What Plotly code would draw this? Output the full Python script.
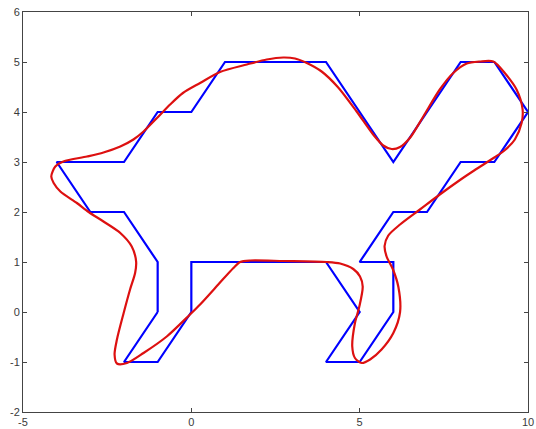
import plotly.graph_objects as go

# Camel outline (closed polygon)
camel_x = [-1, -2, -1, 0, 0, 4, 5, 4, 5, 6, 6, 5, 6, 7, 8, 9, 10, 9, 8, 6, 4, 1, 0, -1, -2, -4, -3, -2, -1, -1]
camel_y = [0, -1, -1, 0, 1, 1, 0, -1, -1, 0, 1, 1, 2, 2, 3, 3, 4, 5, 5, 3, 5, 5, 4, 4, 3, 3, 2, 2, 1, 0]

# Smooth approximation curve (closed)
approx_x = [-4.16, -4.04, -3.80, -3.10, -2.61, -2.11, -1.72, -1.42, -1.02, -0.63, -0.25, 0.26, 0.85,
            1.65, 2.24, 2.73, 3.08, 3.43, 3.87, 4.35, 4.91, 5.40, 5.70, 5.95, 6.20, 6.49, 6.89, 7.38,
            7.78, 8.18, 8.57, 8.97, 9.31, 9.66, 9.84, 9.81, 9.61, 9.30, 9.00, 8.40, 7.98, 7.38, 6.79,
            6.20, 5.85, 5.74, 5.80, 5.99, 6.15, 6.20, 6.00, 5.65, 5.31, 5.06, 4.86, 4.78, 4.86, 4.99,
            5.09, 5.01, 4.81, 4.42, 4.02, 2.73, 1.75, 1.45, 1.25, 0.80, 0.26, -0.04, -0.73, -1.42,
            -1.91, -2.21, -2.28, -2.21, -2.01, -1.82, -1.67, -1.64, -1.77, -2.11, -2.61, -3.05, -3.40,
            -3.89, -4.09, -4.16]
approx_y = [2.71, 2.91, 3.01, 3.11, 3.19, 3.31, 3.45, 3.61, 3.88, 4.15, 4.38, 4.58, 4.80,
            4.95, 5.05, 5.09, 5.07, 4.98, 4.81, 4.50, 4.01, 3.55, 3.33, 3.26, 3.30, 3.48, 3.91, 4.45,
            4.78, 4.97, 5.01, 5.01, 4.78, 4.45, 4.05, 3.78, 3.45, 3.23, 3.09, 2.83, 2.64, 2.35, 2.05,
            1.75, 1.53, 1.32, 1.11, 0.85, 0.50, 0.00, -0.42, -0.75, -0.95, -1.02, -0.92, -0.69, -0.22, 0.11,
            0.51, 0.71, 0.86, 0.97, 1.00, 1.02, 1.03, 1.00, 0.88, 0.55, 0.15, -0.05, -0.49, -0.82,
            -1.02, -1.03, -0.85, -0.55, -0.02, 0.45, 0.78, 1.01, 1.31, 1.58, 1.81, 2.00, 2.18,
            2.41, 2.58, 2.71]

x_ticks = [-5, 0, 5, 10]
y_ticks = [-2, -1, 0, 1, 2, 3, 4, 5, 6]

fig = go.Figure()
fig.add_trace(go.Scatter(x=camel_x, y=camel_y, mode="lines",
                         line=dict(color="#0000ff", width=2.2), hoverinfo="skip"))
fig.add_trace(go.Scatter(x=approx_x, y=approx_y, mode="lines",
                         line=dict(color="#dd1010", width=2.2, shape="spline", smoothing=0.8),
                         hoverinfo="skip"))

axis_common = dict(
    showgrid=False, zeroline=False, showline=True, linecolor="#444444", linewidth=1,
    mirror="ticks", ticks="inside", ticklen=4, tickcolor="#444444", tickwidth=1,
    tickfont=dict(family="Liberation Sans, Arial, sans-serif", size=11, color="#3a3a3a"),
    automargin=False,
)

fig.update_layout(
    width=536, height=429,
    margin=dict(l=23, r=8, t=12, b=17),
    paper_bgcolor="white", plot_bgcolor="white",
    showlegend=False,
    xaxis=dict(range=[-5, 10], tickvals=x_ticks, ticktext=[str(v) for v in x_ticks], **axis_common),
    yaxis=dict(range=[-2, 6], tickvals=y_ticks, ticktext=[str(v) for v in y_ticks], **axis_common),
)

fig.write_html("out.html")
